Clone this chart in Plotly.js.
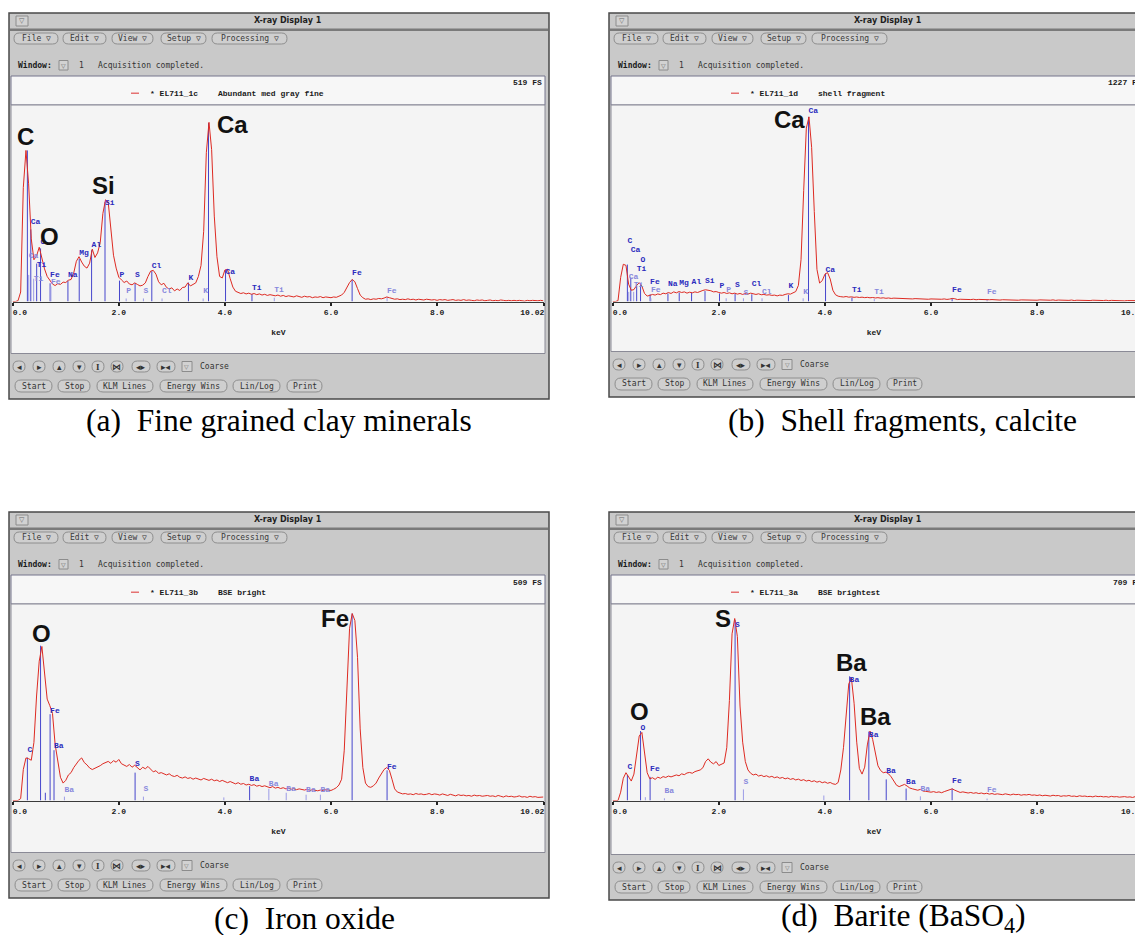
<!DOCTYPE html>
<html>
<head>
<meta charset="utf-8">
<script src="https://cdn.plot.ly/plotly-3.0.1.min.js"></script>
<style>
  html, body { margin: 0; padding: 0; background: #ffffff; }
  #chart { width: 1135px; height: 935px; }
</style>
</head>
<body>
<div id="chart"></div>
<script>
// ---------------------------------------------------------------------------
// EDS spectra (counts per 0.05 keV channel, 0.00 .. 10.00 keV)
// ---------------------------------------------------------------------------
const KEV_STEP = 0.05;

// (a) EL711_1c - abundant medium gray fine material (clay minerals)
const countsClay = [
  0,0,2,25,300,398,310,165,110,120,143,112,86,66,57,46,42,47,45,51,
  50,56,58,75,106,118,104,93,88,101,138,116,128,155,232,268,262,192,122,88,
  64,57,50,54,46,44,49,45,41,43,49,66,80,82,72,52,44,48,37,33,
  36,28,33,29,37,38,49,41,46,49,66,95,185,392,472,400,225,118,66,62,
  83,85,60,38,27,24,21,23,20,22,19,21,18,20,17,19,16,18,17,15,
  17,14,16,13,15,14,12,15,13,11,14,12,13,10,12,11,13,10,12,11,
  10,12,11,14,17,24,36,50,58,52,34,17,10,6,7,5,7,6,8,7,
  9,12,10,8,6,7,5,6,5,7,5,6,4,6,5,4,6,5,4,5,
  3,5,4,5,3,4,5,3,4,3,5,3,4,3,2,4,3,4,2,3,
  4,2,3,2,4,3,2,3,2,3,2,3,2,1,3,2,3,2,2,3,
  2
];
// (b) EL711_1d - shell fragment (calcite)
const countsShell = [
  0,0,5,150,232,225,108,70,74,100,117,96,50,34,38,44,40,47,43,52,
  48,56,50,60,54,62,56,60,52,58,54,60,56,64,69,73,71,67,60,62,
  56,52,56,50,54,48,52,46,50,44,50,46,52,48,44,48,42,44,40,42,
  38,40,35,40,38,44,48,46,52,62,100,260,690,1080,1150,960,560,200,115,130,
  170,180,140,70,42,33,30,28,31,27,29,26,28,25,27,24,26,23,25,22,
  24,21,23,20,22,19,21,20,18,20,17,19,18,16,18,17,15,17,16,14,
  16,15,13,15,14,16,13,15,19,17,12,14,13,11,13,12,14,11,13,12,
  10,13,11,12,10,12,9,11,10,12,9,11,10,8,10,9,11,8,10,9,
  8,10,9,7,9,8,10,7,9,8,6,8,7,9,6,8,7,6,8,7,
  6,8,7,5,7,6,8,5,7,6,5,7,6,4,6,5,7,5,6,5,
  6
];
// (c) EL711_3b - BSE bright grain (iron oxide)
const countsIronOxide = [
  0,0,0,5,80,110,108,104,150,270,360,398,330,262,245,225,145,100,60,45,
  52,66,72,85,96,104,110,98,92,84,80,83,86,90,95,98,101,96,103,99,
  106,95,91,88,93,86,91,84,79,86,82,88,80,74,77,70,72,68,66,69,
  64,62,65,60,58,61,57,59,55,58,56,53,57,54,52,55,51,53,49,52,
  48,46,49,45,43,46,42,44,40,42,39,41,37,39,36,38,35,33,36,32,
  34,31,33,30,32,29,31,28,30,29,27,29,26,28,27,25,27,26,28,27,
  26,29,33,40,55,130,300,445,483,465,370,185,85,45,36,34,38,45,58,70,
  80,85,78,55,30,22,19,17,18,16,17,15,18,16,17,15,16,18,15,17,
  16,14,17,15,13,16,14,12,15,13,14,12,13,11,14,12,13,11,12,13,
  11,12,10,13,11,9,12,10,11,9,10,12,9,10,8,11,9,10,8,9,
  9
];
// (d) EL711_3a - BSE brightest grain (barite)
const countsBarite = [
  0,0,0,30,80,100,85,70,95,170,232,245,175,100,78,82,76,84,80,86,
  83,88,85,90,92,89,96,93,99,101,98,104,107,110,118,140,150,138,132,140,
  126,130,135,190,360,600,655,590,340,210,140,110,98,92,95,88,91,86,89,84,
  87,82,85,80,83,78,81,76,79,74,77,72,75,70,73,68,71,66,69,64,
  67,62,65,60,58,65,110,190,310,420,440,350,210,115,95,120,200,250,220,165,
  125,108,100,102,96,85,70,55,50,54,58,52,45,42,39,37,40,34,33,31,
  30,32,29,31,28,32,36,40,42,37,32,29,31,28,27,29,26,28,25,27,
  24,26,23,25,22,24,23,21,24,22,20,23,21,22,19,21,20,22,19,20,
  18,20,17,19,18,16,19,17,18,15,17,16,18,15,16,14,17,15,16,14,
  15,13,16,14,15,13,14,12,15,13,14,12,13,14,12,13,11,14,12,13,
  12
];

// Full-scale counts of each display
const fsClay = 519, fsShell = 1227, fsIronOxide = 509, fsBarite = 709;

// Spectrum identifiers and descriptions
const specClay = '* EL711_1c',  descClay = 'Abundant med gray fine';
const specShell = '* EL711_1d', descShell = 'shell fragment';
const specIron = '* EL711_3b',  descIron = 'BSE bright';
const specBarite = '* EL711_3a', descBarite = 'BSE brightest';

// KLM marker lines: energy (keV), line top (counts), tag, tag height (counts), minor line flag
const klmClayKeV   = [0.277,0.302,0.341,0.395,0.452,0.525,0.705,0.72,1.041,1.254,1.487,1.740,2.013,2.139,2.307,2.464,2.622,2.815,3.313,3.59,3.691,4.012,4.510,4.931,6.398,7.057];
const klmClayTop   = [398,70,190,60,100,140,48,40,55,112,135,262,55,8,48,8,80,8,50,8,470,83,20,10,58,12];
const klmClayTag   = ['','Ca','Ca','Ti','Ti','O','Fe','Fe','Na','Mg','Al','Si','P','P','S','S','Cl','Cl','K','K','','Ca','Ti','Ti','Fe','Fe'];
const klmClayTagAt = [0,110,199,48,86,145,60,40,58,117,139,250,60,16,60,16,83,16,51,16,0,68,26,20,64,17];
const klmClayMinor = [0,1,0,1,0,0,0,1,0,0,0,0,0,1,0,1,0,1,0,1,0,0,0,1,0,1];

const klmShellKeV   = [0.277,0.302,0.341,0.395,0.452,0.525,0.705,0.72,1.041,1.254,1.487,1.740,2.013,2.139,2.307,2.464,2.622,2.815,3.313,3.59,3.691,4.012,4.510,4.931,6.398,7.057];
const klmShellTop   = [230,60,150,60,100,110,45,20,50,55,55,65,50,20,50,20,45,20,40,20,1150,175,25,15,20,12];
const klmShellTag   = ['C','Ca','Ca','Ti','Ti','O','Fe','Fe','Na','Mg','Al','Si','P','P','S','S','Cl','Cl','K','K','Ca','Ca','Ti','Ti','Fe','Fe'];
const klmShellTagAt = [354,127,294,75,179,235,94,46,85,90,98,100,69,48,77,31,83,33,69,33,1160,170,44,33,44,33];
const klmShellMinor = [0,1,0,1,0,0,0,1,0,0,0,0,0,1,0,1,0,1,0,1,0,0,0,1,0,1];

const klmIronKeV   = [0.277,0.525,0.615,0.705,0.779,0.975,2.307,2.464,3.98,4.466,4.828,5.156,5.531,5.8,6.398,7.057];
const klmIronTop   = [111,400,20,223,130,10,72,10,8,37,30,20,15,15,483,78];
const klmIronTag   = ['C','','','Fe','Ba','Ba','S','S','','Ba','Ba','Ba','Ba','Ba','','Fe'];
const klmIronTagAt = [121,0,0,221,130,17,84,19,0,46,32,19,17,17,0,76];
const klmIronMinor = [0,0,0,0,0,1,0,1,1,0,1,1,1,1,0,0];

const klmBariteKeV   = [0.277,0.525,0.615,0.705,0.975,2.307,2.464,3.98,4.466,4.828,5.156,5.531,5.8,6.398,7.057];
const klmBariteTop   = [92,250,12,85,8,650,40,18,447,248,76,43,15,43,7];
const klmBariteTag   = ['C','O','','Fe','Ba','S','S','','Ba','Ba','Ba','Ba','Ba','Fe','Fe'];
const klmBariteTagAt = [106,245,0,98,19,618,52,0,421,220,90,54,28,57,22];
const klmBariteMinor = [0,0,1,0,1,0,1,1,0,0,0,0,1,0,1];

// Element call-outs: symbol, energy (keV), counts
const calloutClayEl = ['C','O','Si','Ca'],  calloutClayKeV = [0.245,0.69,1.72,4.14],   calloutClayCounts = [436,172,305,467];
const calloutShellEl = ['Ca'],              calloutShellKeV = [3.33],                  calloutShellCounts = [1133];
const calloutIronEl = ['O','Fe'],           calloutIronKeV = [0.55,6.07],              calloutIronCounts = [431,470];
const calloutBariteEl = ['O','S','Ba','Ba'],calloutBariteKeV = [0.51,2.08,4.51,4.96],  calloutBariteCounts = [322,655,495,303];

// Axis ticks (keV)
const tickKeV = [0, 2, 4, 6, 8, 10.02];
const tickText = ['0.0', '2.0', '4.0', '6.0', '8.0', '10.02'];

// Figure captions
const captionClay = '(a)\u00a0 Fine grained clay minerals';
const captionShell = '(b)\u00a0 Shell fragments, calcite';
const captionIron = '(c)\u00a0 Iron oxide';
const captionBarite = '(d)\u00a0 Barite (BaSO<sub>4</sub>)';

// ---------------------------------------------------------------------------
// Drawing helpers (page is laid out in screen pixels, converted to paper units)
// ---------------------------------------------------------------------------
const W = 1135, H = 935;
const PX_PER_KEV = 53.05;
const MONO = '"Liberation Mono", "DejaVu Sans Mono", monospace';
const UI = '"DejaVu Sans Mono", monospace';
const SANS = '"DejaVu Sans", sans-serif';
const ARIAL = '"Liberation Sans", Arial, sans-serif';
const SERIF = '"Liberation Serif", "Times New Roman", serif';
const CHROME = '#c9c9c9';
const RED = '#dd2a22';
const BLUE = '#4646cc', BLUE_LIGHT = '#9c9ce6';

const px = x => x / W;
const py = y => 1 - y / H;
const shapes = [], annotations = [], traces = [];

const layout = {
  width: W, height: H,
  margin: { l: 0, r: 0, t: 0, b: 0, pad: 0 },
  paper_bgcolor: '#ffffff',
  plot_bgcolor: 'rgba(0,0,0,0)',
  showlegend: false,
  hovermode: false,
  shapes, annotations
};

function box(x0, y0, x1, y1, fill, line, lw) {
  shapes.push({
    type: 'rect', xref: 'paper', yref: 'paper', layer: 'below',
    x0: px(x0), x1: px(x1), y0: py(y1), y1: py(y0),
    fillcolor: fill || 'rgba(0,0,0,0)',
    line: { color: line || 'rgba(0,0,0,0)', width: line ? (lw || 1) : 0 }
  });
}

function pill(x0, x1, yc, h, fill, line) {
  const r = h / 2, t = yc - r, b = yc + r;
  const P = (x, y) => px(x).toFixed(5) + ',' + py(y).toFixed(5);
  const d = 'M' + P(x0 + r, t) + ' L' + P(x1 - r, t) +
            ' Q' + P(x1, t) + ' ' + P(x1, yc) + ' Q' + P(x1, b) + ' ' + P(x1 - r, b) +
            ' L' + P(x0 + r, b) +
            ' Q' + P(x0, b) + ' ' + P(x0, yc) + ' Q' + P(x0, t) + ' ' + P(x0 + r, t) + ' Z';
  shapes.push({ type: 'path', xref: 'paper', yref: 'paper', layer: 'below', path: d,
                fillcolor: fill, line: { color: line, width: 1 } });
}

function note(x, y, text, size, o) {
  o = o || {};
  annotations.push({
    xref: 'paper', yref: 'paper', x: px(x), y: py(y), text: text, showarrow: false,
    xanchor: o.anchor || 'left', yanchor: 'middle', borderpad: 0, borderwidth: 0,
    font: { family: o.family || UI, size: size, color: o.color || '#222', weight: o.weight || 'normal' }
  });
}

// ---------------------------------------------------------------------------
// Application window around each spectrum
// ---------------------------------------------------------------------------
function drawWindow(p) {
  const X = x => x + p.dx, Y = y => y + p.dy, B = y => y + p.dy + p.btnDy;

  box(X(9), Y(13), X(549), B(399), CHROME, '#4a4a4a', 1.5);

  // title bar
  box(X(16), Y(16), X(28), Y(26), '#d2d2d2', '#8c8c8c');
  note(X(22), Y(21), '▽', 7, { anchor: 'center', family: SANS, color: '#666' });
  note(X(288), Y(20.5), 'X-ray Display 1', 8, { anchor: 'center', family: SANS, weight: 'bold', color: '#1e1e1e' });
  box(X(10), Y(28.5), X(548), Y(31), '#7a7a7a');

  // menu bar
  [['File ▽', 14, 58], ['Edit ▽', 63, 106], ['View ▽', 112, 153],
   ['Setup ▽', 161, 206], ['Processing ▽', 212, 287]].forEach(m => {
    pill(X(m[1]), X(m[2]), Y(38.5), 11, '#cfcfcf', '#8e8e8e');
    note(X((m[1] + m[2]) / 2), Y(38.5), m[0], 8, { anchor: 'center', color: '#3a3a3a' });
  });

  // status line
  note(X(18), Y(65), 'Window:', 8, { weight: 'bold', color: '#1a1a1a' });
  box(X(59), Y(60.5), X(68), Y(70), '#d2d2d2', '#8c8c8c');
  note(X(63.5), Y(65), '▽', 6, { anchor: 'center', family: SANS, color: '#666' });
  note(X(79), Y(65), '1', 8, { color: '#333' });
  note(X(98), Y(65), 'Acquisition completed.', 8, { color: '#333' });

  // legend strip
  box(X(11), Y(76), X(545), Y(105), '#f7f7f7', '#74748c');
  box(X(131), Y(92.6), X(139), Y(93.8), '#e05050');
  note(X(150), Y(93), p.spec, 8, { family: MONO, weight: 'bold', color: '#1a1a1a' });
  note(X(218), Y(93), p.desc, 8, { family: MONO, weight: 'bold', color: '#1a1a1a' });
  note(X(542), Y(83), p.fs + ' FS', 8, { anchor: 'right', family: MONO, weight: 'bold', color: '#1a1a1a' });

  // spectrum area
  box(X(11), Y(105), X(545), B(353.5), '#f4f4f4', '#8a8a96');

  // navigation buttons
  [['◂', 13, 25], ['▸', 33, 45], ['▴', 53, 65], ['▾', 73, 85],
   ['I', 92, 104], ['⋈', 111, 123], ['◂▸', 132, 150], ['▸◂', 157, 175]].forEach(b => {
    pill(X(b[1]), X(b[2]), B(366.5), 11, '#cfcfcf', '#8e8e8e');
    note(X((b[1] + b[2]) / 2), B(366.5), b[0], 9,
         { anchor: 'center', family: b[0] === 'I' ? SERIF : SANS, weight: 'bold', color: '#333' });
  });
  box(X(182), B(361.5), X(192), B(371.5), '#d2d2d2', '#8c8c8c');
  note(X(187), B(366.5), '▽', 6, { anchor: 'center', family: SANS, color: '#777' });
  note(X(200), B(366.5), 'Coarse', 8, { color: '#333' });

  // acquisition buttons
  [['Start', 15, 52], ['Stop', 58, 90], ['KLM Lines', 97, 153],
   ['Energy Wins', 160, 227], ['Lin/Log', 233, 280], ['Print', 287, 322]].forEach(b => {
    pill(X(b[1]), X(b[2]), B(386), 12, '#cfcfcf', '#8e8e8e');
    note(X((b[1] + b[2]) / 2), B(386), b[0], 8, { anchor: 'center', color: '#333' });
  });
}

// ---------------------------------------------------------------------------
// Spectrum subplot
// ---------------------------------------------------------------------------
function drawSpectrum(p) {
  const sfx = p.n === 1 ? '' : String(p.n);
  const xa = 'x' + sfx, ya = 'y' + sfx;
  const x0 = 12.7 + p.dx;
  const xFull = x0 + 10.02 * PX_PER_KEV;
  const cut = xFull > W;
  const x1 = cut ? W : xFull;
  const base = 301.5 + p.dy, top = 104.5 + p.dy;

  layout['xaxis' + sfx] = {
    domain: [px(x0), px(x1)],
    range: [0, cut ? (W - x0) / PX_PER_KEV : 10.02],
    anchor: ya, fixedrange: true,
    showgrid: false, zeroline: false,
    showline: true, linecolor: '#3a3a3a', linewidth: 1,
    ticks: 'outside', ticklen: 3, tickwidth: 2, tickcolor: '#222',
    ticklabeloverflow: 'allow',
    tickmode: 'array', tickvals: tickKeV,
    ticktext: tickText.map((t, i) => i === 0 ? '\u00a0'.repeat(t.length) + t
                                    : i === tickText.length - 1 ? t + '\u00a0'.repeat(t.length) : t),
    tickfont: { family: MONO, size: 8, color: '#1a1a1a', weight: 'bold' },
    title: { text: 'keV', standoff: 13, font: { family: MONO, size: 8, color: '#1a1a1a', weight: 'bold' } }
  };
  layout['yaxis' + sfx] = {
    domain: [py(base), py(top)], range: [0, p.fs], anchor: xa,
    visible: false, fixedrange: true
  };

  if (cut) {
    // last tick label sits past the window edge and is only partly visible
    note(xFull + 0.5, 312 + p.dy, tickText[tickText.length - 1], 8,
         { anchor: 'right', family: MONO, weight: 'bold', color: '#1a1a1a' });
  }

  // KLM marker lines
  [0, 1].forEach(minor => {
    const lx = [], ly = [];
    p.klmKeV.forEach((e, i) => {
      if (p.klmMinor[i] === minor) { lx.push(e, e, null); ly.push(0, p.klmTop[i], null); }
    });
    traces.push({ type: 'scatter', mode: 'lines', x: lx, y: ly, xaxis: xa, yaxis: ya,
                  line: { color: minor ? BLUE_LIGHT : BLUE, width: 1 }, hoverinfo: 'skip' });
  });

  // measured spectrum
  traces.push({
    type: 'scatter', mode: 'lines', xaxis: xa, yaxis: ya,
    x: p.counts.map((_, i) => +(i * KEV_STEP).toFixed(2)), y: p.counts,
    line: { color: RED, width: 1 }, hoverinfo: 'skip'
  });

  // KLM tags
  const tx = [], ty = [], tt = [], tc = [];
  p.klmKeV.forEach((e, i) => {
    if (p.klmTag[i]) {
      tx.push(e); ty.push(p.klmTagAt[i]); tt.push(p.klmTag[i]);
      tc.push(p.klmMinor[i] ? '#8888dc' : '#2b2bbd');
    }
  });
  traces.push({
    type: 'scatter', mode: 'text', x: tx, y: ty, text: tt, xaxis: xa, yaxis: ya,
    textposition: 'top right', cliponaxis: false, hoverinfo: 'skip',
    textfont: { family: MONO, size: 8, color: tc, weight: 'bold' }
  });

  // element call-outs
  p.callEl.forEach((el, i) => {
    annotations.push({
      xref: xa, yref: ya, x: p.callKeV[i], y: p.callCounts[i], text: el, showarrow: false,
      xanchor: 'center', yanchor: 'middle',
      font: { family: ARIAL, size: 24, color: '#111', weight: 'bold' }
    });
  });
}

const panels = [
  { n: 1, dx: 0,   dy: 0,   btnDy: 0,  counts: countsClay, fs: fsClay, spec: specClay, desc: descClay,
    klmKeV: klmClayKeV, klmTop: klmClayTop, klmTag: klmClayTag, klmTagAt: klmClayTagAt, klmMinor: klmClayMinor,
    callEl: calloutClayEl, callKeV: calloutClayKeV, callCounts: calloutClayCounts },
  { n: 2, dx: 600, dy: 0,   btnDy: -2, counts: countsShell, fs: fsShell, spec: specShell, desc: descShell,
    klmKeV: klmShellKeV, klmTop: klmShellTop, klmTag: klmShellTag, klmTagAt: klmShellTagAt, klmMinor: klmShellMinor,
    callEl: calloutShellEl, callKeV: calloutShellKeV, callCounts: calloutShellCounts },
  { n: 3, dx: 0,   dy: 499, btnDy: 0,  counts: countsIronOxide, fs: fsIronOxide, spec: specIron, desc: descIron,
    klmKeV: klmIronKeV, klmTop: klmIronTop, klmTag: klmIronTag, klmTagAt: klmIronTagAt, klmMinor: klmIronMinor,
    callEl: calloutIronEl, callKeV: calloutIronKeV, callCounts: calloutIronCounts },
  { n: 4, dx: 600, dy: 499, btnDy: 2,  counts: countsBarite, fs: fsBarite, spec: specBarite, desc: descBarite,
    klmKeV: klmBariteKeV, klmTop: klmBariteTop, klmTag: klmBariteTag, klmTagAt: klmBariteTagAt, klmMinor: klmBariteMinor,
    callEl: calloutBariteEl, callKeV: calloutBariteKeV, callCounts: calloutBariteCounts }
];

panels.forEach(p => { drawWindow(p); drawSpectrum(p); });

// captions under each window
note(279, 420, captionClay, 31.5, { anchor: 'center', family: SERIF, color: '#000' });
note(902, 420, captionShell, 31.5, { anchor: 'center', family: SERIF, color: '#000' });
note(304, 918, captionIron, 31.5, { anchor: 'center', family: SERIF, color: '#000' });
note(903, 918, captionBarite, 31.5, { anchor: 'center', family: SERIF, color: '#000' });

Plotly.newPlot('chart', traces, layout, { staticPlot: true, displayModeBar: false });
</script>
</body>
</html>
